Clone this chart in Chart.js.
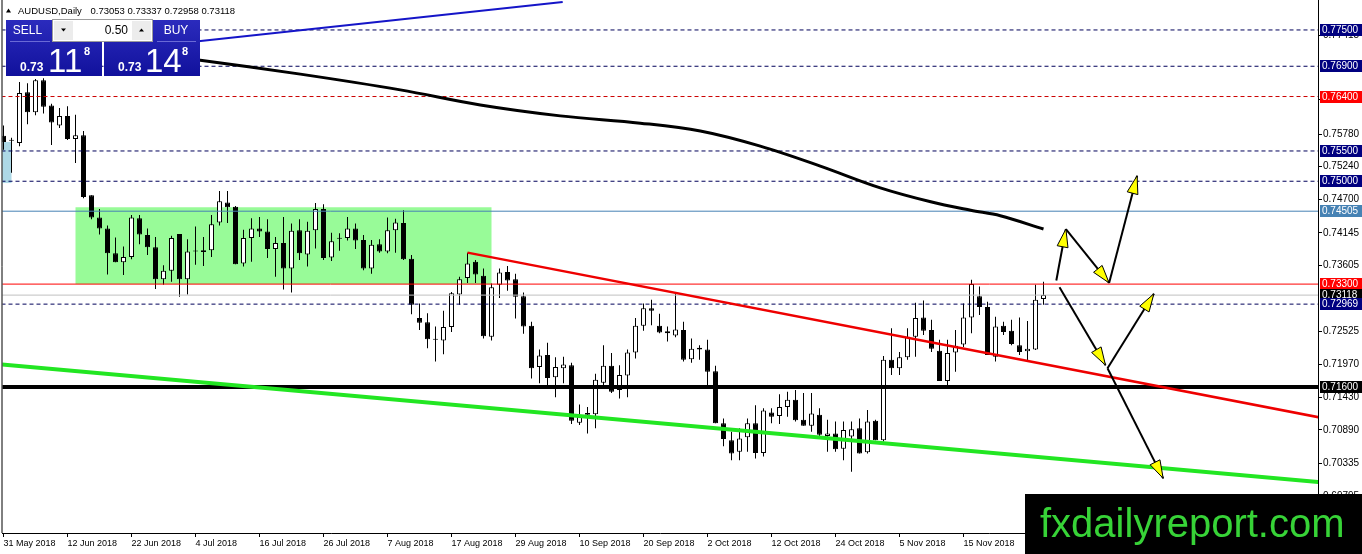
<!DOCTYPE html>
<html>
<head>
<meta charset="utf-8">
<title>AUDUSD Daily</title>
<script src="https://cdn.jsdelivr.net/npm/chart.js@4.4.1/dist/chart.umd.min.js"></script>
<style>
  html, body { margin: 0; padding: 0; background: #fff; overflow: hidden; }
  #caja { width: 1362px; height: 554px; position: relative; }
</style>
</head>
<body>
<div id="caja"><canvas id="myChart"></canvas></div>
<script>
// Velas diarias AUDUSD (31 May 2018 -> 29 Nov 2018)
const opens = [
  0.7575, 0.7567, 0.7563, 0.7647, 0.7614, 0.7667, 0.7625, 0.7592, 0.7608, 0.7570,
  0.7576, 0.7477, 0.7440, 0.7422, 0.7381, 0.7366, 0.7375, 0.7439, 0.7411, 0.7391,
  0.7338, 0.7352, 0.7413, 0.7338, 0.7384, 0.7383, 0.7386, 0.7432, 0.7465, 0.7458,
  0.7364, 0.7406, 0.7422, 0.7417, 0.7388, 0.7398, 0.7356, 0.7419, 0.7379, 0.7419,
  0.7454, 0.7374, 0.7405, 0.7406, 0.7422, 0.7403, 0.7356, 0.7396, 0.7384, 0.7419,
  0.7431, 0.7372, 0.7274, 0.7267, 0.7238, 0.7237, 0.7259, 0.7313, 0.7340, 0.7367,
  0.7344, 0.7243, 0.7329, 0.7350, 0.7338, 0.7310, 0.7261, 0.7193, 0.7213, 0.7176,
  0.7191, 0.7196, 0.7101, 0.7114, 0.7115, 0.7167, 0.7195, 0.7155, 0.7179, 0.7217,
  0.7261, 0.7290, 0.7261, 0.7252, 0.7245, 0.7254, 0.7206, 0.7225, 0.7222, 0.7186,
  0.7100, 0.7072, 0.7053, 0.7077, 0.7100, 0.7051, 0.7118, 0.7112, 0.7127, 0.7139,
  0.7106, 0.7096, 0.7114, 0.7079, 0.7083, 0.7058, 0.7078, 0.7092, 0.7052, 0.7104,
  0.7072, 0.7205, 0.7191, 0.7209, 0.7243, 0.7275, 0.7254, 0.7220, 0.7170, 0.7217,
  0.7230, 0.7275, 0.7310, 0.7292, 0.7210, 0.7261, 0.7253, 0.7229, 0.7219, 0.7222, 0.73053
];
const highs = [
  0.7592, 0.7572, 0.7664, 0.7662, 0.7669, 0.7670, 0.7628, 0.7621, 0.7624, 0.7610,
  0.7583, 0.7477, 0.7454, 0.7427, 0.7407, 0.7392, 0.7444, 0.7444, 0.7422, 0.7408,
  0.7361, 0.7410, 0.7413, 0.7404, 0.7425, 0.7408, 0.7444, 0.7484, 0.7484, 0.7459,
  0.7420, 0.7439, 0.7441, 0.7437, 0.7408, 0.7441, 0.7430, 0.7437, 0.7433, 0.7464,
  0.7462, 0.7415, 0.7414, 0.7441, 0.7430, 0.7411, 0.7403, 0.7404, 0.7440, 0.7438,
  0.7452, 0.7378, 0.7298, 0.7282, 0.7260, 0.7286, 0.7317, 0.7342, 0.7382, 0.7370,
  0.7356, 0.7331, 0.7356, 0.7360, 0.7347, 0.7316, 0.7268, 0.7222, 0.7233, 0.7209,
  0.7210, 0.7200, 0.7131, 0.7127, 0.7182, 0.7229, 0.7216, 0.7196, 0.7222, 0.7274,
  0.7298, 0.7304, 0.7281, 0.7260, 0.7315, 0.7268, 0.7240, 0.7229, 0.7238, 0.7195,
  0.7108, 0.7086, 0.7092, 0.7108, 0.7130, 0.7125, 0.7125, 0.7148, 0.7152, 0.7155,
  0.7150, 0.7150, 0.7125, 0.7106, 0.7103, 0.7103, 0.7103, 0.7108, 0.7122, 0.7106,
  0.7211, 0.7257, 0.7218, 0.7257, 0.7299, 0.7303, 0.7271, 0.7238, 0.7238, 0.7254,
  0.7298, 0.7337, 0.7326, 0.7301, 0.7276, 0.7268, 0.7271, 0.7275, 0.7269, 0.7329, 0.73337
];
const lows = [
  0.7552, 0.7514, 0.7558, 0.7594, 0.7609, 0.7612, 0.7560, 0.7588, 0.7568, 0.7530,
  0.7472, 0.7437, 0.7412, 0.7346, 0.7366, 0.7345, 0.7371, 0.7396, 0.7378, 0.7322,
  0.7329, 0.7334, 0.7309, 0.7313, 0.7362, 0.7360, 0.7375, 0.7427, 0.7431, 0.7363,
  0.7359, 0.7367, 0.7408, 0.7373, 0.7342, 0.7321, 0.7316, 0.7370, 0.7359, 0.7389,
  0.7370, 0.7368, 0.7385, 0.7402, 0.7388, 0.7353, 0.7347, 0.7382, 0.7381, 0.7382,
  0.7370, 0.7280, 0.7254, 0.7224, 0.7202, 0.7214, 0.7251, 0.7296, 0.7332, 0.7332,
  0.7240, 0.7237, 0.7307, 0.7319, 0.7273, 0.7248, 0.7174, 0.7166, 0.7160, 0.7143,
  0.7166, 0.7099, 0.7097, 0.7083, 0.7092, 0.7160, 0.7150, 0.7141, 0.7143, 0.7207,
  0.7253, 0.7262, 0.7249, 0.7235, 0.7242, 0.7202, 0.7200, 0.7205, 0.7160, 0.7100,
  0.7062, 0.7039, 0.7039, 0.7053, 0.7042, 0.7045, 0.7100, 0.7099, 0.7111, 0.7103,
  0.7096, 0.7086, 0.7075, 0.7053, 0.7053, 0.7039, 0.7020, 0.7050, 0.7050, 0.7072,
  0.7070, 0.7180, 0.7180, 0.7205, 0.7210, 0.7246, 0.7218, 0.7170, 0.7160, 0.7185,
  0.7226, 0.7249, 0.7279, 0.7213, 0.7202, 0.7246, 0.7229, 0.7213, 0.7202, 0.7221, 0.72958
];
const closes = [
  0.7565, 0.7567, 0.7646, 0.7614, 0.7667, 0.7623, 0.7597, 0.7608, 0.7570, 0.7576,
  0.7474, 0.7440, 0.7422, 0.7381, 0.7366, 0.7375, 0.7440, 0.7412, 0.7391, 0.7338,
  0.7352, 0.7406, 0.7338, 0.7384, 0.7384, 0.7386, 0.7429, 0.7467, 0.7457, 0.7363,
  0.7406, 0.7422, 0.7417, 0.7388, 0.7398, 0.7356, 0.7418, 0.7381, 0.7418, 0.7454,
  0.7373, 0.7401, 0.7405, 0.7422, 0.7402, 0.7356, 0.7395, 0.7384, 0.7419, 0.7432,
  0.7371, 0.7296, 0.7266, 0.7239, 0.7238, 0.7259, 0.7315, 0.7338, 0.7364, 0.7346,
  0.7244, 0.7325, 0.7349, 0.7336, 0.7309, 0.7260, 0.7191, 0.7212, 0.7175, 0.7193,
  0.7197, 0.7104, 0.7112, 0.7117, 0.7172, 0.7195, 0.7152, 0.7180, 0.7217, 0.7261,
  0.7290, 0.7286, 0.7250, 0.7249, 0.7255, 0.7205, 0.7223, 0.7222, 0.7185, 0.7100,
  0.7074, 0.7050, 0.7075, 0.7100, 0.7051, 0.7121, 0.7111, 0.7127, 0.7139, 0.7105,
  0.7096, 0.7116, 0.7081, 0.7083, 0.7057, 0.7089, 0.7090, 0.7050, 0.7103, 0.7072,
  0.7205, 0.7191, 0.7209, 0.7243, 0.7274, 0.7253, 0.7223, 0.7170, 0.7216, 0.7228,
  0.7275, 0.7330, 0.7292, 0.7213, 0.7260, 0.7251, 0.7231, 0.7218, 0.7223, 0.7304, 0.73118
];

// Etiquetas del eje de tiempo (cada 8 velas)
const tickDates = ['31 May 2018', '12 Jun 2018', '22 Jun 2018', '4 Jul 2018', '16 Jul 2018', '26 Jul 2018',
  '7 Aug 2018', '17 Aug 2018', '29 Aug 2018', '10 Sep 2018', '20 Sep 2018', '2 Oct 2018',
  '12 Oct 2018', '24 Oct 2018', '5 Nov 2018', '15 Nov 2018'];
const tickIndex = [0, 8, 16, 24, 32, 40, 48, 56, 64, 72, 80, 88, 96, 104, 112, 120];

// Precios del eje derecho
const priceTicks = [0.77415, 0.76355, 0.75780, 0.75240, 0.74700, 0.74145, 0.73605,
  0.72525, 0.71970, 0.71430, 0.70890, 0.70335, 0.69795];

// Niveles horizontales
const levels = [0.77500, 0.76900, 0.76400, 0.75500, 0.75000, 0.74505, 0.73300, 0.73118, 0.72969, 0.71600];

// Media movil (indice de vela, precio)
const maIndex = [18, 24.6, 37.1, 49.6, 59.6, 69.6, 79.6, 87.1, 94.6, 102.1, 109.6, 115.9, 120.9, 124.6, 130];
const maValues = [0.7712, 0.7700, 0.7677, 0.7651, 0.7626, 0.7608, 0.7596, 0.7583, 0.7558, 0.7525, 0.7489, 0.7466, 0.7452, 0.7443, 0.7421];

// Lineas de tendencia
const redLine = [[58, 0.7382], [164.4, 0.7110]];
const greenLine = [[-0.2, 0.7197], [164.4, 0.7003]];
const blueLine = [[20, 0.7725], [69.9, 0.7796]];

// Flechas del escenario
const arrows = [
  [[131.6, 0.7336], [132.8, 0.7421]],
  [[132.8, 0.7421], [138.2, 0.7332]],
  [[138.2, 0.7332], [141.7, 0.7509]],
  [[132.0, 0.7325], [137.75, 0.7196]],
  [[138.0, 0.7191], [143.8, 0.7314]],
  [[138.0, 0.7191], [144.96, 0.7009]]
];

// Zonas (x0, x1, precio bajo, precio alto)
const greenZone = [9, 61, 0.7330, 0.7457];
const blueZone = [-0.2, 1, 0.7497, 0.7565];

const X_MIN = -0.125, X_MAX = 164.3125;
const Y_MIN = 0.69187, Y_MAX = 0.77995;
const FUENTE = "'Liberation Sans', Arial, sans-serif";

let myChart;

function linea(puntos, color, ancho, extra) {
  return Object.assign({
    type: 'line',
    data: puntos.map(p => ({ x: p[0], y: p[1] })),
    borderColor: color,
    borderWidth: ancho,
    pointRadius: 0,
    fill: false,
    order: 0
  }, extra || {});
}

function nivel(v, color, ancho, dash) {
  return linea([[X_MIN - 1, v], [X_MAX + 1, v]], color, ancho, { borderDash: dash ? [4, 3] : [] });
}

function bloqueAzul(ctx, x, y, w, h) {
  const g = ctx.createLinearGradient(0, y, 0, y + h);
  g.addColorStop(0, '#2b2bbd');
  g.addColorStop(1, '#11119c');
  ctx.fillStyle = g;
  ctx.fillRect(x, y, w, h);
}

function dibujarPanel(ctx) {
  ctx.save();
  // cabecera
  ctx.fillStyle = '#000';
  ctx.beginPath();
  ctx.moveTo(6, 12.5); ctx.lineTo(11, 12.5); ctx.lineTo(8.5, 8.5); ctx.closePath(); ctx.fill();
  ctx.font = '9.5px ' + FUENTE;
  ctx.textBaseline = 'alphabetic';
  ctx.textAlign = 'left';
  ctx.fillText('AUDUSD,Daily', 18, 13.5);
  ctx.fillText('0.73053 0.73337 0.72958 0.73118', 90.5, 13.5);

  // bloques SELL / BUY
  bloqueAzul(ctx, 6, 20, 96, 56);
  bloqueAzul(ctx, 104, 20, 96, 56);
  ctx.strokeStyle = '#6a6ad6';
  ctx.lineWidth = 1;
  ctx.beginPath();
  ctx.moveTo(10, 41.5); ctx.lineTo(50, 41.5);
  ctx.moveTo(157, 41.5); ctx.lineTo(196, 41.5);
  ctx.stroke();

  // selector de lote
  ctx.fillStyle = '#fff';
  ctx.fillRect(52, 19, 101, 23);
  ctx.strokeStyle = '#9c9c9c';
  ctx.strokeRect(52.5, 19.5, 100, 22);
  ctx.fillStyle = '#ececec';
  ctx.fillRect(54, 21, 19, 19);
  ctx.fillRect(132, 21, 19, 19);
  ctx.fillStyle = '#000';
  ctx.beginPath();
  ctx.moveTo(61, 28.5); ctx.lineTo(66, 28.5); ctx.lineTo(63.5, 31.5); ctx.closePath(); ctx.fill();
  ctx.beginPath();
  ctx.moveTo(139, 31.5); ctx.lineTo(144, 31.5); ctx.lineTo(141.5, 28.5); ctx.closePath(); ctx.fill();
  ctx.font = '12px ' + FUENTE;
  ctx.textAlign = 'right';
  ctx.textBaseline = 'middle';
  ctx.fillText('0.50', 128, 30.5);

  ctx.fillStyle = '#fff';
  ctx.textAlign = 'center';
  ctx.fillText('SELL', 27.5, 31);
  ctx.fillText('BUY', 176, 31);

  // precios
  ctx.textAlign = 'left';
  ctx.textBaseline = 'alphabetic';
  ctx.font = 'bold 12px ' + FUENTE;
  ctx.fillText('0.73', 20, 70.5);
  ctx.fillText('0.73', 118, 70.5);
  ctx.font = '33px ' + FUENTE;
  ctx.fillText('11', 48, 71.5);
  ctx.fillText('14', 145, 71.5);
  ctx.font = 'bold 11px ' + FUENTE;
  ctx.fillText('8', 84, 55);
  ctx.fillText('8', 182, 55);
  ctx.restore();
}

function dibujarLogo(ctx) {
  ctx.save();
  ctx.fillStyle = '#000';
  ctx.fillRect(1025, 494, 337, 60);
  ctx.fillStyle = '#37d337';
  ctx.font = '40px ' + FUENTE;
  ctx.textAlign = 'left';
  ctx.textBaseline = 'alphabetic';
  ctx.fillText('fxdailyreport.com', 1040, 537);
  ctx.restore();
}

const coloresCaja = ['#000080', '#000080', '#ff0000', '#000080', '#000080', '#4682b4', '#ff0000', '#000000', '#000080', '#000000'];

const extras = {
  id: 'extras',
  beforeDatasetsDraw(chart) {
    const { ctx, chartArea: a, scales: { x, y } } = chart;
    ctx.save();
    ctx.beginPath();
    ctx.rect(a.left, a.top, a.right - a.left, a.bottom - a.top);
    ctx.clip();
    [[greenZone, '#98fb98'], [blueZone, '#add8e6']].forEach(([z, c]) => {
      const x0 = x.getPixelForValue(z[0]), x1 = x.getPixelForValue(z[1]);
      const y0 = y.getPixelForValue(z[3]), y1 = y.getPixelForValue(z[2]);
      ctx.fillStyle = c;
      ctx.fillRect(x0, y0, x1 - x0, y1 - y0);
    });
    ctx.restore();
  },
  afterDatasetsDraw(chart) {
    const { ctx, scales: { x, y } } = chart;
    ctx.save();
    arrows.forEach(f => {
      const x0 = x.getPixelForValue(f[0][0]), y0 = y.getPixelForValue(f[0][1]);
      const x1 = x.getPixelForValue(f[1][0]), y1 = y.getPixelForValue(f[1][1]);
      const ang = Math.atan2(y1 - y0, x1 - x0);
      const L = 18, W = 5.5;
      const bx = x1 - L * Math.cos(ang), by = y1 - L * Math.sin(ang);
      ctx.beginPath();
      ctx.moveTo(x1, y1);
      ctx.lineTo(bx - W * Math.sin(ang), by + W * Math.cos(ang));
      ctx.lineTo(bx + W * Math.sin(ang), by - W * Math.cos(ang));
      ctx.closePath();
      ctx.fillStyle = '#ffff00';
      ctx.fill();
      ctx.strokeStyle = '#000';
      ctx.lineWidth = 1;
      ctx.stroke();
    });
    ctx.restore();
  },
  afterDraw(chart) {
    const { ctx, chartArea: a, scales: { y } } = chart;
    ctx.save();
    // borde izquierdo
    ctx.strokeStyle = '#000';
    ctx.lineWidth = 1;
    ctx.beginPath();
    ctx.moveTo(2, 0); ctx.lineTo(2, a.bottom);
    ctx.stroke();
    // cajas de precio
    ctx.font = '10px ' + FUENTE;
    ctx.textAlign = 'left';
    ctx.textBaseline = 'middle';
    levels.forEach((v, k) => {
      const py = Math.round(y.getPixelForValue(v));
      ctx.fillStyle = coloresCaja[k];
      ctx.fillRect(1320, py - 6, 42, 12);
      ctx.fillStyle = '#fff';
      ctx.fillText(v.toFixed(5), 1322, py + 0.5);
    });
    ctx.restore();
    dibujarPanel(ctx);
    dibujarLogo(ctx);
  }
};

// Crear el grafico
function crearGrafico() {
  const ctx = document.getElementById('myChart').getContext('2d');
  const idx = opens.map((o, i) => i);

  myChart = new Chart(ctx, {
    type: 'bar',
    data: {
      datasets: [
        // flechas
        ...arrows.map(f => linea(f, '#000', 2, { order: -3 })),
        // tendencias
        linea(redLine, '#ee0000', 2.5, { order: -2 }),
        linea(greenLine, '#22e622', 4, { order: -2 }),
        linea(blueLine, '#1515c8', 2, { order: -2 }),
        linea(maIndex.map((v, k) => [v, maValues[k]]), '#000', 3, { order: -1, tension: 0.35 }),
        // niveles
        nivel(levels[0], '#00005a', 1, true),
        nivel(levels[1], '#00005a', 1, true),
        nivel(levels[2], '#cc0000', 1, true),
        nivel(levels[3], '#00005a', 1, true),
        nivel(levels[4], '#00005a', 1, true),
        nivel(levels[5], '#4682b4', 1, false),
        nivel(levels[6], '#ff0000', 1, false),
        nivel(levels[7], '#c0c0c0', 1, false),
        nivel(levels[8], '#00005a', 1, true),
        linea([[X_MIN - 1, levels[9]], [X_MAX + 1, levels[9]]], '#000', 4, { order: -1 }),
        // cuerpos
        {
          type: 'bar',
          data: idx.map(i => ({ x: i, y: [opens[i], closes[i]] })),
          backgroundColor: idx.map(i => closes[i] > opens[i] ? '#ffffff' : '#000000'),
          borderColor: '#000',
          borderWidth: 1,
          borderSkipped: false,
          barThickness: 5,
          minBarLength: 1,
          inflateAmount: 0,
          grouped: false,
          order: 1
        },
        // mechas
        {
          type: 'bar',
          data: idx.map(i => ({ x: i, y: [lows[i], highs[i]] })),
          backgroundColor: '#000',
          borderWidth: 0,
          barThickness: 1,
          inflateAmount: 0,
          grouped: false,
          order: 2
        }
      ]
    },
    options: {
      responsive: true,
      maintainAspectRatio: false,
      animation: false,
      events: [],
      layout: { autoPadding: false, padding: { left: 2.5, top: 0, right: 0, bottom: 0 } },
      plugins: { legend: { display: false }, tooltip: { enabled: false } },
      scales: {
        x: {
          type: 'linear',
          min: X_MIN,
          max: X_MAX,
          bounds: 'data',
          offset: false,
          grid: { drawOnChartArea: false, drawTicks: true, tickLength: 4, color: '#000', offset: false },
          border: { display: true, color: '#000', width: 1 },
          ticks: {
            autoSkip: false,
            maxRotation: 0,
            align: 'start',
            padding: 1,
            color: '#000',
            font: { size: 9, family: FUENTE },
            callback: function (value) {
              const k = tickIndex.indexOf(value);
              return k >= 0 ? tickDates[k] : '';
            }
          },
          afterBuildTicks: s => { s.ticks = tickIndex.map(v => ({ value: v })); },
          afterFit: s => { s.height = 21; s.paddingLeft = 0; s.paddingRight = 0; }
        },
        y: {
          type: 'linear',
          position: 'right',
          min: Y_MIN,
          max: Y_MAX,
          bounds: 'data',
          grid: { drawOnChartArea: false, drawTicks: true, tickLength: 4, color: '#000' },
          border: { display: true, color: '#000', width: 1 },
          ticks: {
            autoSkip: false,
            padding: 1,
            color: '#000',
            font: { size: 10, family: FUENTE },
            callback: v => v.toFixed(5)
          },
          afterBuildTicks: s => { s.ticks = priceTicks.map(v => ({ value: v })); },
          afterFit: s => { s.width = 44; s.paddingTop = 0; s.paddingBottom = 0; }
        }
      }
    },
    plugins: [extras]
  });
}

crearGrafico();
</script>
</body>
</html>
